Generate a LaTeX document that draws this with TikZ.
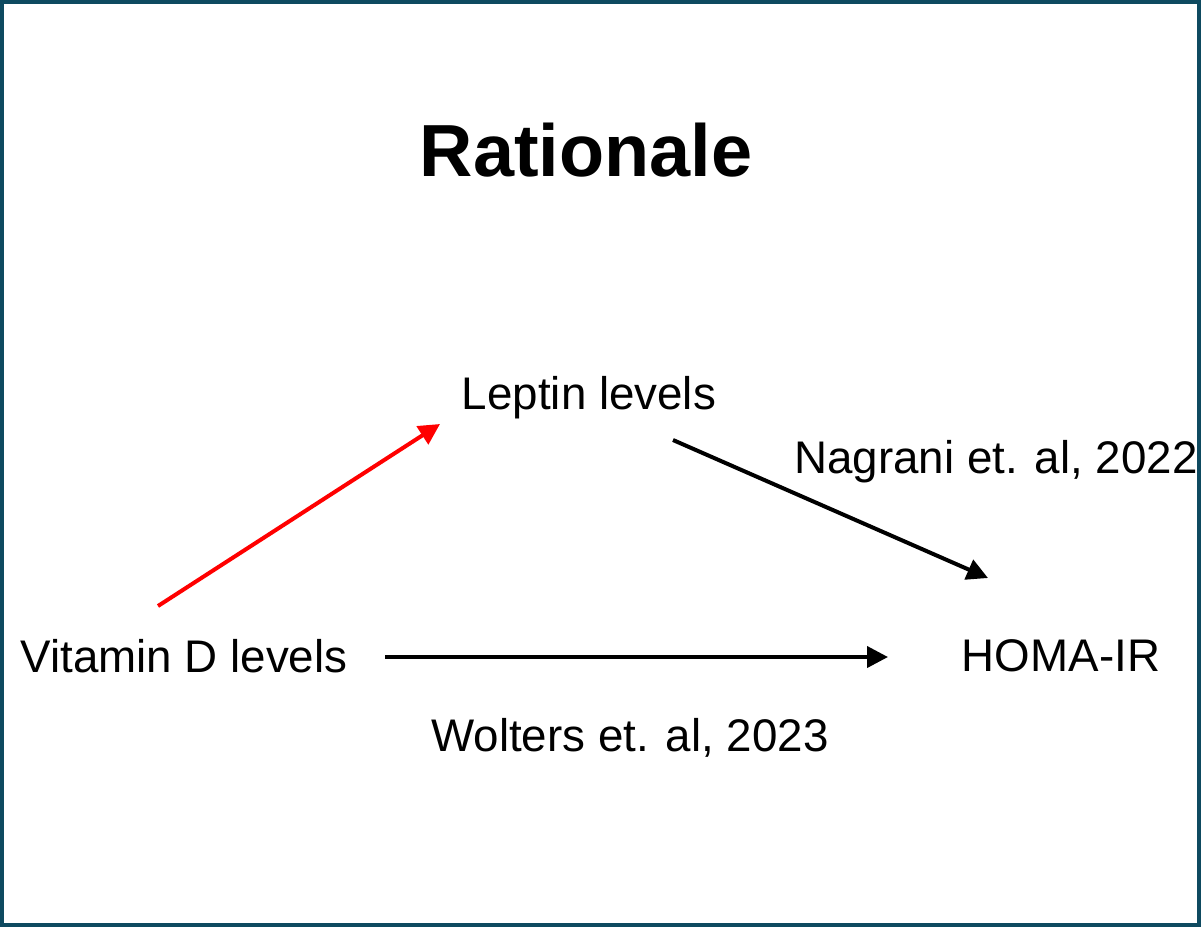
\documentclass[tikz,border=0pt]{standalone}
\usepackage{fontspec}
\setmainfont{Liberation Sans}
\usetikzlibrary{arrows.meta, positioning, calc}
\definecolor{FrameTeal}{RGB}{14, 74, 96}
\definecolor{ArrowRed}{RGB}{255, 0, 0}

\begin{document}
\begin{tikzpicture}[
    x=0.01cm, y=-0.01cm,
    label/.style={inner sep=0pt, font=\fontsize{13pt}{15pt}\selectfont},
    heading/.style={inner sep=0pt, font=\fontsize{21pt}{25pt}\selectfont\bfseries},
    link/.style={-{Triangle[length=0.21cm, width=0.21cm]}, line width=0.04cm, black},
]
\useasboundingbox (0,0) rectangle (1201,927);

% ============ marco ============
\draw[FrameTeal, line width=0.04cm] (2,2) rectangle (1199,925);

% ============ titulo ============
\node[heading] (title) at (586,150) {Rationale};

% ============ nodos ============
\node[label] (leptin) at (589,398) {Leptin levels};
\node[label] (vitd)   at (184,656) {Vitamin D levels};
\node[label] (homa)   at (1061,656) {HOMA-IR};
\node[label] (nagrani) at (996,462) {Nagrani et. al, 2022};
\node[label] (wolters) at (630,738) {Wolters et. al, 2023};

% extremos de las flechas
\coordinate (vd-up)    at (158,606);
\coordinate (lep-in)   at (440,424);
\coordinate (lep-out)  at (673,440);
\coordinate (homa-in)  at (988,578);
\coordinate (vd-right) at (385,657);
\coordinate (homa-left) at (888,657);

% ============ flechas ============
\draw[link, ArrowRed] (vd-up) -- (lep-in);
\draw[link] (lep-out) -- (homa-in);
\draw[link] (vd-right) -- (homa-left);

\end{tikzpicture}
\end{document}
